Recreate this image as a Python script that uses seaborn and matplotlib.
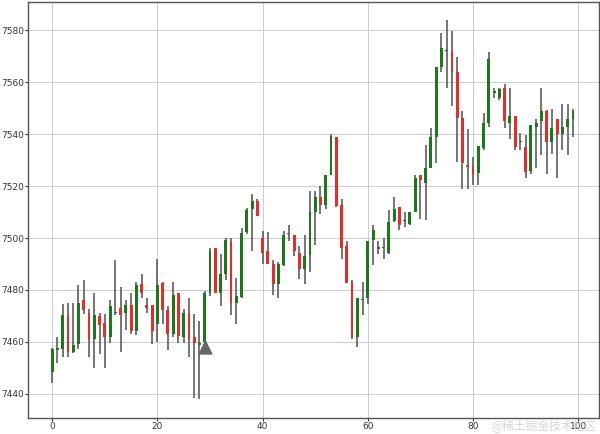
import numpy as np
import pandas as pd
import matplotlib
matplotlib.use('Agg')
import matplotlib.pyplot as plt
import seaborn as sns

# --- Data ---
opens = [7448.3, 7457.0, 7457.2, 7470.4, 7456.2, 7459.1, 7476.1, 7471.2, 7461.3, 7470.0,
         7467.2, 7461.9, 7471.0, 7473.0, 7471.2, 7474.2, 7464.2, 7482.2, 7474.2, 7474.2,
         7467.0, 7482.5, 7472.1, 7463.2, 7479.0, 7461.9, 7471.0, 7461.9, 7459.0, 7460.0,
         7478.7, 7496.2, 7479.0, 7486.0, 7498.4, 7474.9, 7477.4, 7502.5, 7511.2, 7514.2,
         7500.2, 7494.9, 7490.1, 7482.2, 7489.8, 7501.5, 7501.0, 7494.3, 7487.9, 7493.4,
         7509.9, 7515.9, 7512.9, 7524.1, 7539.1, 7512.9, 7496.8, 7483.2, 7461.9, 7476.0,
         7477.1, 7499.4, 7495.6, 7496.0, 7494.3, 7506.4, 7511.8, 7506.5, 7505.3, 7510.2,
         7524.1, 7521.3, 7526.9, 7539.1, 7566.0, 7572.0, 7572.1, 7564.1, 7546.3, 7528.2,
         7527.3, 7525.1, 7534.5, 7544.2, 7556.0, 7554.0, 7557.8, 7544.4, 7547.0, 7537.0,
         7534.9, 7526.0, 7542.9, 7545.1, 7548.9, 7537.1, 7546.0, 7540.0, 7542.9, 7546.0]
closes = [7457.1, 7457.5, 7470.5, 7456.1, 7459.0, 7475.0, 7472.3, 7461.3, 7470.2, 7466.5,
          7461.9, 7474.0, 7471.5, 7470.4, 7474.2, 7464.2, 7482.0, 7479.0, 7473.1, 7464.2,
          7482.0, 7472.3, 7463.2, 7478.2, 7462.2, 7471.0, 7461.3, 7459.4, 7459.7, 7479.0,
          7495.2, 7479.0, 7486.0, 7499.1, 7474.9, 7477.8, 7501.9, 7510.8, 7514.2, 7508.3,
          7494.3, 7490.1, 7482.2, 7490.1, 7501.0, 7502.0, 7495.2, 7487.9, 7493.0, 7509.9,
          7515.9, 7512.9, 7524.1, 7539.4, 7512.4, 7496.2, 7482.6, 7461.9, 7476.9, 7476.5,
          7498.7, 7503.2, 7496.6, 7496.5, 7506.0, 7511.0, 7505.1, 7507.0, 7509.9, 7523.1,
          7522.2, 7526.9, 7539.0, 7565.8, 7573.0, 7572.5, 7564.1, 7546.3, 7528.9, 7527.3,
          7524.8, 7535.3, 7544.2, 7569.0, 7556.5, 7557.4, 7545.1, 7547.0, 7534.9, 7537.5,
          7525.4, 7543.4, 7544.2, 7548.9, 7537.1, 7542.5, 7540.0, 7542.9, 7546.0, 7548.9]
highs = [7457.5, 7461.9, 7474.6, 7475.0, 7475.0, 7482.0, 7483.9, 7472.5, 7478.8, 7471.0,
         7470.8, 7476.1, 7491.7, 7481.0, 7476.1, 7478.8, 7483.2, 7486.0, 7477.1, 7474.2,
         7492.0, 7482.9, 7474.0, 7482.9, 7479.0, 7472.7, 7476.9, 7470.8, 7468.0, 7479.7,
         7496.2, 7496.2, 7493.9, 7500.0, 7500.0, 7484.8, 7503.8, 7511.7, 7517.1, 7515.2,
         7502.8, 7502.5, 7491.7, 7490.8, 7502.9, 7505.1, 7501.0, 7496.8, 7501.0, 7518.0,
         7518.0, 7520.1, 7524.1, 7540.0, 7539.1, 7515.2, 7498.7, 7483.7, 7476.9, 7483.0,
         7498.7, 7505.1, 7498.7, 7500.0, 7510.8, 7515.9, 7511.8, 7509.9, 7509.9, 7524.1,
         7524.1, 7535.8, 7542.2, 7565.8, 7579.0, 7583.8, 7579.7, 7569.8, 7548.9, 7541.9,
         7531.1, 7535.3, 7548.0, 7571.7, 7557.8, 7557.8, 7559.4, 7557.8, 7547.0, 7540.6,
         7539.6, 7543.4, 7546.0, 7557.8, 7549.5, 7549.8, 7546.0, 7551.8, 7551.8, 7549.8]
lows = [7444.1, 7452.0, 7454.0, 7454.0, 7455.8, 7457.1, 7470.8, 7454.0, 7450.1, 7455.3,
        7450.1, 7459.4, 7470.2, 7456.2, 7464.4, 7463.2, 7462.5, 7477.1, 7471.0, 7459.1,
        7460.0, 7467.0, 7456.8, 7461.9, 7459.4, 7459.4, 7454.3, 7438.4, 7438.0, 7459.0,
        7477.8, 7479.0, 7474.0, 7483.7, 7470.2, 7467.0, 7477.1, 7501.5, 7495.2, 7508.3,
        7490.1, 7490.1, 7478.2, 7476.9, 7489.2, 7499.0, 7493.0, 7484.1, 7482.2, 7487.0,
        7497.2, 7509.1, 7511.2, 7524.1, 7512.1, 7492.1, 7482.6, 7461.3, 7458.1, 7470.2,
        7474.6, 7489.8, 7493.9, 7492.1, 7493.9, 7506.1, 7503.2, 7504.1, 7505.1, 7509.9,
        7507.4, 7507.0, 7526.9, 7529.0, 7564.1, 7557.8, 7550.8, 7529.2, 7519.0, 7519.0,
        7520.3, 7520.3, 7534.0, 7542.9, 7554.0, 7553.1, 7542.2, 7538.1, 7534.0, 7534.0,
        7523.1, 7524.8, 7526.9, 7532.0, 7524.8, 7532.4, 7523.1, 7534.0, 7532.0, 7539.1]

# buy signal marker
signal_idx = [29]
signal_price = [7458.0]

df = pd.DataFrame({'open': opens, 'close': closes, 'high': highs, 'low': lows})
df['idx'] = np.arange(len(df))
df['up'] = df['close'] >= df['open']

sns.set_style('ticks')
plt.rcParams['font.family'] = ['DejaVu Sans', 'Noto Sans CJK SC']

fig = plt.figure(figsize=(6.0, 4.34), dpi=100)
ax = fig.add_axes([28 / 600, 1 - 418 / 434, 571 / 600, 416 / 434])

ax.grid(True, color='#cccccc', linewidth=0.7, linestyle='-')
ax.set_axisbelow(True)

# wicks
ax.vlines(df['idx'], df['low'], df['high'], color='#505050', linewidth=1.1, zorder=2)

# bodies
colors = np.where(df['up'], '#1a7a1a', '#e82a2a')
body = (df['close'] - df['open']).abs().clip(lower=0.4)
bottom = df[['open', 'close']].min(axis=1)
ax.bar(df['idx'], body, bottom=bottom, width=0.55, color=colors, linewidth=0, zorder=3)

# signal
sns.scatterplot(x=signal_idx, y=signal_price, marker='^', s=90, color='#666666',
                edgecolor='#666666', ax=ax, zorder=4, legend=False)

ax.set_xlim(-4.6, 103.95)
ax.set_ylim(7430.7, 7590.9)
ax.set_xticks(range(0, 101, 20))
ax.set_yticks(range(7440, 7581, 20))
ax.tick_params(labelsize=6.5, colors='#333333', length=2, pad=1)
for s in ax.spines.values():
    s.set_color('#555555')
    s.set_linewidth(1.0)

fig.text(0.995, 0.004, '@稀土掘金技术社区', ha='right', va='bottom', fontsize=8.5,
         color='#cccccc', family=['Noto Sans CJK SC', 'DejaVu Sans'], alpha=0.8)

fig.savefig('out.png', dpi=100)
